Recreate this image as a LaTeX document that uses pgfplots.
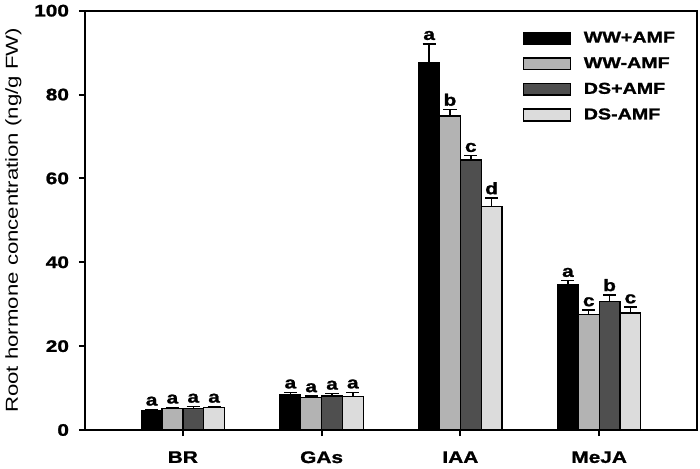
\documentclass[border=0pt]{standalone}
\usepackage{pgfplots}
\pgfplotsset{compat=1.18}
\usepackage{pgfplotstable}
\usepackage{fontspec}
\setmainfont{Liberation Sans}[FakeStretch=1.25, BoldFeatures={FakeBold=1.3}]
\newfontfamily\labfont{Liberation Sans}[FakeStretch=1.28]
\definecolor{cA}{HTML}{000000}
\definecolor{cB}{HTML}{B3B3B3}
\definecolor{cC}{HTML}{4F4F4F}
\definecolor{cD}{HTML}{DCDCDC}
% x  y  err  top  letter
\pgfplotstableread{
x y e t l
0 4.6 0.3 4.9 a
1 8.5 0.5 9.0 a
2 87.5 4.6 92.1 a
3 34.6 1.0 35.6 a
}\sA
\pgfplotstableread{
x y e t l
0 5.1 0.3 5.4 a
1 7.7 0.4 8.1 a
2 74.9 1.5 76.4 b
3 27.6 1.0 28.6 c
}\sB
\pgfplotstableread{
x y e t l
0 5.2 0.4 5.6 a
1 8.1 0.6 8.7 a
2 64.4 1.0 65.4 c
3 30.6 1.6 32.2 b
}\sC
\pgfplotstableread{
x y e t l
0 5.3 0.3 5.6 a
1 8.0 1.0 9.0 a
2 53.3 2.0 55.3 d
3 27.9 1.4 29.3 c
}\sD
\pgfplotsset{
  mybar/.style={draw=black, line width=1pt, fill=#1,
    error bars/.cd, y dir=plus, y explicit, error mark=-,
    error bar style={line width=1.1pt, black},
    error mark options={rotate=90, line width=1.1pt, mark size=4.9pt, black},
    /pgfplots/.cd,
    legend image code/.code={\draw[draw=black, line width=1.2pt, fill=#1] (0pt,-4.35pt) rectangle (35pt,4.35pt);}},
  mylab/.style={draw=none, fill=none, forget plot,
    nodes near coords, point meta=explicit symbolic,
    nodes near coords style={font=\fontsize{12.5}{14}\selectfont\bfseries, anchor=south, inner sep=2.6pt, text=black}},
}
\begin{document}
\begin{tikzpicture}
\useasboundingbox (-63.75pt,-28.5pt) rectangle (461.25pt,322.5pt);
\begin{axis}[
  at={(0pt,0pt)}, anchor=south west,
  scale only axis, width=459pt, height=314.5pt,
  ybar, bar width=0.15,
  xmin=-0.705, xmax=3.705, ymin=0, ymax=100,
  xtick={0,1,2,3}, xticklabels={BR,GAs,IAA,MeJA},
  ytick={0,20,40,60,80,100},
  tick pos=left, tick align=outside,
  major tick length=4.5pt,
  every tick/.style={black, line width=1.5pt},
  axis line style={line width=1.6pt},
  ticklabel style={font=\fontsize{12.5}{14}\selectfont\bfseries},
  yticklabel style={xshift=-4pt},
  xticklabel style={yshift=-8pt},
  /pgf/number format/assume math mode=true,
  ylabel={Root hormone concentration (ng/g FW)},
  ylabel style={font=\labfont\fontsize{13}{15}\selectfont, at={(axis description cs:-0.117,0.5)}, anchor=center},
  legend style={draw=none, fill=none, at={(0.715,0.955)}, anchor=north west,
    inner sep=0pt, row sep=6.5pt, font=\fontsize{11.8}{13}\selectfont\bfseries,
    nodes={inner sep=1.5pt},
    /tikz/every odd column/.append style={column sep=8pt}},
  legend cell align=left,
]
\addplot[mybar=cA, bar shift=-0.225] table[x=x, y=y, y error=e] {\sA};
\addplot[mybar=cB, bar shift=-0.075] table[x=x, y=y, y error=e] {\sB};
\addplot[mybar=cC, bar shift=0.075] table[x=x, y=y, y error=e] {\sC};
\addplot[mybar=cD, bar shift=0.225] table[x=x, y=y, y error=e] {\sD};
\legend{WW+AMF, WW-AMF, DS+AMF, DS-AMF}
\addplot[mylab, bar shift=-0.225] table[x=x, y=t, meta=l] {\sA};
\addplot[mylab, bar shift=-0.075] table[x=x, y=t, meta=l] {\sB};
\addplot[mylab, bar shift=0.075] table[x=x, y=t, meta=l] {\sC};
\addplot[mylab, bar shift=0.225] table[x=x, y=t, meta=l] {\sD};
\end{axis}
\end{tikzpicture}
\end{document}
